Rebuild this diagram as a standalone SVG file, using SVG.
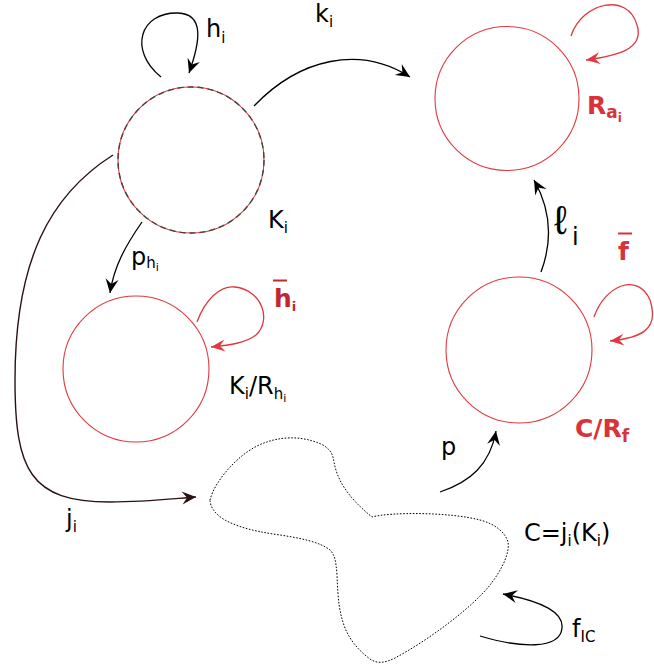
<svg xmlns="http://www.w3.org/2000/svg" width="654" height="668" viewBox="0 0 654 668">
<defs>
<style>
.lbl{font-family:"DejaVu Sans","Liberation Sans",sans-serif;font-size:24px;fill:#000}
.rl{font-family:"DejaVu Sans","Liberation Sans",sans-serif;font-size:25px;font-weight:bold;fill:#d8333a}
.rc{fill:none;stroke:#e0383e;stroke-width:1.1}
.ar{fill:none;stroke:#000;stroke-width:1.3}
.arr{fill:none;stroke:#e0383e;stroke-width:1.3}
</style>
<marker id="ah" viewBox="-15 -8 17 16" markerWidth="17" markerHeight="16" refX="0" refY="0" orient="auto" markerUnits="userSpaceOnUse"><path d="M0,0 L-14,-6.5 L-9,0 L-14,6.5 Z" fill="#000"/></marker>
<marker id="ahb" viewBox="-15 -8 17 16" markerWidth="17" markerHeight="16" refX="0" refY="0" orient="auto" markerUnits="userSpaceOnUse"><path d="M0,0 L-14,-6.5 L-9,0 L-14,6.5 Z" fill="#2a1212"/></marker>
<marker id="ahr" viewBox="-15 -8 17 16" markerWidth="17" markerHeight="16" refX="0" refY="0" orient="auto" markerUnits="userSpaceOnUse"><path d="M0,0 L-14,-6 L-9,0 L-14,6 Z" fill="#e0383e"/></marker>
</defs>
<rect width="654" height="668" fill="#fff"/>

<g id="node-Ki">
<circle cx="191" cy="160" r="73" class="rc"/>
<circle cx="191" cy="160" r="73" fill="none" stroke="#444" stroke-width="1.4" stroke-dasharray="6,4"/>
<text class="lbl" x="268" y="228">K<tspan font-size="15" dy="5">i</tspan></text>
</g>

<g id="node-Rai">
<circle cx="507" cy="98.5" r="72" class="rc"/>
<text class="rl" x="587" y="114">R<tspan font-size="17" dy="4">a</tspan><tspan font-size="12" dy="4">i</tspan></text>
</g>

<g id="node-KiRhi">
<circle cx="136" cy="369" r="73" class="rc"/>
<text class="lbl" x="229" y="394">K<tspan font-size="15" dy="5">i</tspan><tspan dy="-5">/R</tspan><tspan font-size="15" dy="5">h</tspan><tspan font-size="11" dy="3">i</tspan></text>
</g>

<g id="node-CRf">
<circle cx="519" cy="350" r="73" class="rc"/>
<text class="rl" x="575" y="437">C/R<tspan font-size="17" dy="5">f</tspan></text>
</g>

<g id="node-C">
<path d="M210,500 C214,482 240,450 267,442 C278,438 300,434 323,445 C331,450 333,455 334,462 C337,478 345,495 372,517 C390,512 450,512 480,520 C495,524 505,532 508,542 C510,555 500,572 490,585 C470,610 425,642 395,658 C385,663 377,664 370,659 C358,650 350,640 345,628 C339,612 338,600 337,575 C336,562 335,555 330,550 C320,542 300,538 280,535 C250,531 225,524 215,512 C211,507 210,503 210,500 Z" fill="none" stroke="#000" stroke-width="1" stroke-dasharray="1.6,1.6"/>
<text class="lbl" x="524" y="541">C=j<tspan font-size="15" dy="5">i</tspan><tspan dy="-5">(K</tspan><tspan font-size="15" dy="5">i</tspan><tspan dy="-5">)</tspan></text>
</g>

<g id="connectors">
<path class="ar" d="M161,77 C128,50 140,12 178,13 C205,14 200,42 189,73" marker-end="url(#ah)"/>
<text class="lbl" x="206" y="37">h<tspan font-size="15" dy="6">i</tspan></text>

<path class="ar" d="M254,106 C300,58 360,45 410,77" marker-end="url(#ah)"/>
<text class="lbl" x="315" y="22">k<tspan font-size="15" dy="5">i</tspan></text>

<path class="ar" d="M142,222 C126,245 114,266 110,293" marker-end="url(#ah)"/>
<text class="lbl" x="131" y="265">p<tspan font-size="15" dy="3">h</tspan><tspan font-size="11" dy="3">i</tspan></text>

<path fill="none" stroke="#2a1212" stroke-width="1.4" d="M113,155 C50,195 15,260 15,380 C15,470 30,502 110,502 C145,502 170,499 196,497" marker-end="url(#ahb)"/>
<text class="lbl" x="66" y="527">j<tspan font-size="15" dy="5">i</tspan></text>

<path class="ar" d="M541,272 C553,240 551,210 534,180" marker-end="url(#ah)"/>
<text x="554" y="234" font-family="'Liberation Sans','Noto Sans',sans-serif" font-size="40" fill="#000">ℓ</text>
<text class="lbl" x="572" y="245" font-size="22">i</text>

<path class="ar" d="M440,492 C470,482 490,465 496,431" marker-end="url(#ah)"/>
<text class="lbl" x="441" y="455">p</text>

<path class="ar" d="M480,636 C520,648 560,650 562,628 C564,610 535,600 503,594" marker-end="url(#ah)"/>
<text class="lbl" x="572" y="637">f<tspan font-size="15" dy="5">IC</tspan></text>

<path class="arr" d="M571,36 C582,2 628,-8 637,25 C645,50 615,56 586,60" marker-end="url(#ahr)"/>
<path class="arr" d="M197,322 C205,300 220,285 235,287 C262,290 272,320 256,335 C246,343 230,345 211,347" marker-end="url(#ahr)"/>
<text class="rl" x="274" y="307" font-size="21" style="fill:#c0282d">h<tspan font-size="13" dy="4">i</tspan></text>
<line x1="273" y1="280.5" x2="287" y2="280.5" stroke="#c0282d" stroke-width="2"/>
<path class="arr" d="M594,317 C605,285 638,272 650,300 C660,330 640,338 610,341" marker-end="url(#ahr)"/>
<text class="rl" x="618" y="260">f</text>
<line x1="618" y1="233.5" x2="632" y2="233.5" stroke="#d8333a" stroke-width="2"/>
</g>
</svg>
